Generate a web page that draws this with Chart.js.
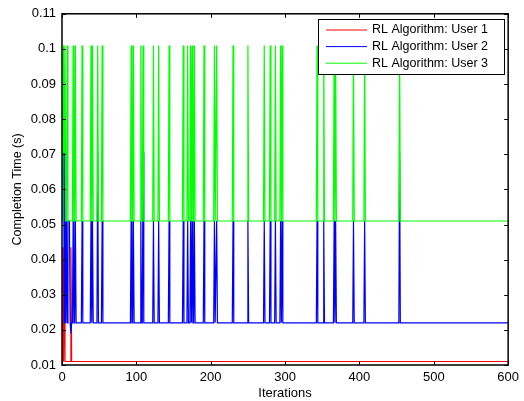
<!DOCTYPE html>
<html>
<head>
<meta charset="utf-8">
<script src="https://cdn.jsdelivr.net/npm/chart.js@4"></script>
<style>
html, body { margin: 0; padding: 0; background: #fff; }
#wrap { width: 524px; height: 401px; }
</style>
</head>
<body>
<div id="wrap"><canvas id="chart"></canvas></div>
<script>
const xTicks = [0, 100, 200, 300, 400, 500, 600];
const yTicks = [0.01, 0.02, 0.03, 0.04, 0.05, 0.06, 0.07, 0.08, 0.09, 0.1, 0.11];
const yTickLabels = ["0.01", "0.02", "0.03", "0.04", "0.05", "0.06", "0.07", "0.08", "0.09", "0.1", "0.11"];

const seriesNames = ["RL Algorithm: User 1", "RL Algorithm: User 2", "RL Algorithm: User 3"];
const seriesColors = ["#ff0000", "#0000ff", "#00ff00"];

// iterations where users 2 and 3 jump after the start-up phase
const spikeIters = [15, 18, 27, 39, 41, 48, 54, 93, 96, 106, 109, 123, 130, 144, 163, 169, 173, 175, 178, 191,
    205, 208, 230, 250, 272, 280, 287, 294, 296, 343, 352, 366, 368, 392, 407, 454];
const user2Peaks = [0.051, 0.051, 0.051, 0.051, 0.051, 0.0705, 0.051, 0.051, 0.051, 0.051, 0.0705, 0.051, 0.051, 0.051, 0.051, 0.051, 0.051, 0.051, 0.051, 0.051,
    0.051, 0.051, 0.051, 0.051, 0.051, 0.051, 0.051, 0.051, 0.051, 0.051, 0.051, 0.051, 0.051, 0.051, 0.051, 0.0705];
const user3Peaks = [0.101, 0.101, 0.101, 0.101, 0.101, 0.101, 0.101, 0.101, 0.101, 0.101, 0.101, 0.101, 0.101, 0.101, 0.101, 0.101, 0.101, 0.101, 0.101, 0.101,
    0.101, 0.101, 0.101, 0.101, 0.101, 0.101, 0.101, 0.101, 0.101, 0.101, 0.101, 0.101, 0.101, 0.101, 0.101, 0.101];

// start-up phase, read point by point
const user1Iters = [0, 1, 2, 3, 4, 11, 12, 13, 600];
const user1Times = [0.011, 0.0435, 0.011, 0.0435, 0.011, 0.011, 0.0435, 0.011, 0.011];
const user2StartIters = [0, 1, 2, 3, 4, 5, 6, 7, 8, 10, 11, 12, 13];
const user2StartTimes = [0.051, 0.051, 0.086, 0.022, 0.0705, 0.022, 0.051, 0.022, 0.051, 0.051, 0.022, 0.019, 0.022];
const user3StartIters = [0, 1, 2, 3, 4, 5, 6, 7, 8, 13];
const user3StartTimes = [0.076, 0.051, 0.101, 0.0705, 0.101, 0.051, 0.051, 0.101, 0.051, 0.051];

const user2Base = 0.022;
const user3Base = 0.051;
const lastIter = 600;

// start-up points, then one-iteration jumps from the steady level
function buildSeries(startIters, startTimes, base, peaks) {
    const pts = startIters.map((it, i) => ({ x: it, y: startTimes[i] }));
    spikeIters.forEach((it, i) => {
        pts.push({ x: it - 1, y: base });
        pts.push({ x: it, y: peaks[i] });
        pts.push({ x: it + 1, y: base });
    });
    pts.push({ x: lastIter, y: base });
    return pts;
}

const user1Data = user1Iters.map((it, i) => ({ x: it, y: user1Times[i] }));
const user2Data = buildSeries(user2StartIters, user2StartTimes, user2Base, user2Peaks);
const user3Data = buildSeries(user3StartIters, user3StartTimes, user3Base, user3Peaks);

const fontFamily = "'Liberation Sans', Arial, Helvetica, sans-serif";

// MATLAB-like box, inward ticks and legend box inside the axes
const matlabAxes = {
    id: "matlabAxes",
    afterDraw(chart) {
        const ctx = chart.ctx;
        const a = chart.chartArea;
        const xs = chart.scales.x;
        const ys = chart.scales.y;
        ctx.save();
        ctx.strokeStyle = "#000";
        ctx.lineWidth = 1;
        xTicks.forEach(v => {
            const px = Math.round(xs.getPixelForValue(v)) + 0.5;
            ctx.beginPath();
            ctx.moveTo(px, a.bottom); ctx.lineTo(px, a.bottom - 4);
            ctx.moveTo(px, a.top); ctx.lineTo(px, a.top + 4);
            ctx.stroke();
        });
        yTicks.forEach(v => {
            const py = Math.round(ys.getPixelForValue(v)) + 0.5;
            ctx.beginPath();
            ctx.moveTo(a.left, py); ctx.lineTo(a.left + 4, py);
            ctx.moveTo(a.right, py); ctx.lineTo(a.right - 4, py);
            ctx.stroke();
        });
        ctx.lineWidth = 1.5;
        ctx.strokeRect(a.left, a.top, a.right - a.left, a.bottom - a.top);

        // legend
        const bx = 318, by = 19, bw = 186, bh = 55;
        ctx.fillStyle = "#fff";
        ctx.fillRect(bx, by, bw, bh);
        ctx.lineWidth = 1;
        ctx.strokeRect(bx + 0.5, by + 0.5, bw, bh);
        ctx.font = "12.5px " + fontFamily;
        ctx.textBaseline = "middle";
        chart.data.datasets.forEach((ds, i) => {
            const y = by + 11 + i * 16.6;
            ctx.strokeStyle = ds.borderColor;
            ctx.beginPath();
            ctx.moveTo(bx + 8, y); ctx.lineTo(bx + 49, y);
            ctx.stroke();
            ctx.fillStyle = "#000";
            ctx.fillText(ds.label, bx + 54, y);
        });
        ctx.restore();
    }
};

const ctx = document.getElementById("chart").getContext("2d");
new Chart(ctx, {
    type: "line",
    data: {
        datasets: [
            { label: seriesNames[0], data: user1Data, borderColor: seriesColors[0], order: 2 },
            { label: seriesNames[1], data: user2Data, borderColor: seriesColors[1], order: 1 },
            { label: seriesNames[2], data: user3Data, borderColor: seriesColors[2], order: 0 },
        ],
    },
    options: {
        responsive: true,
        maintainAspectRatio: false,
        animation: false,
        datasets: {
            line: { borderWidth: 1.2, pointRadius: 0, tension: 0, fill: false },
        },
        layout: { padding: { top: 13, right: 14, left: 0, bottom: 0 } },
        scales: {
            x: {
                type: "linear",
                min: 0,
                max: 600,
                afterBuildTicks: s => { s.ticks = xTicks.map(v => ({ value: v })); },
                afterFit: s => { s.height = 36; },
                grid: { display: false, drawTicks: false },
                border: { display: false },
                ticks: { color: "#000", padding: 5, font: { size: 13, family: fontFamily }, maxRotation: 0 },
                title: { display: true, text: "Iterations", color: "#000", padding: { top: 0, bottom: 0 },
                    font: { size: 13, family: fontFamily } },
            },
            y: {
                type: "linear",
                min: 0.01,
                max: 0.11,
                afterBuildTicks: s => { s.ticks = yTicks.map(v => ({ value: v })); },
                afterFit: s => { s.width = 62; },
                grid: { display: false, drawTicks: false },
                border: { display: false },
                ticks: {
                    color: "#000", padding: 6, font: { size: 13, family: fontFamily },
                    callback: (v, i) => yTickLabels[i],
                },
                title: { display: true, text: "Completion Time (s)", color: "#000", padding: { top: 10, bottom: 0 },
                    font: { size: 12.5, family: fontFamily } },
            },
        },
        plugins: {
            legend: { display: false },
            tooltip: { enabled: false },
        },
    },
    plugins: [matlabAxes],
});
</script>
</body>
</html>
